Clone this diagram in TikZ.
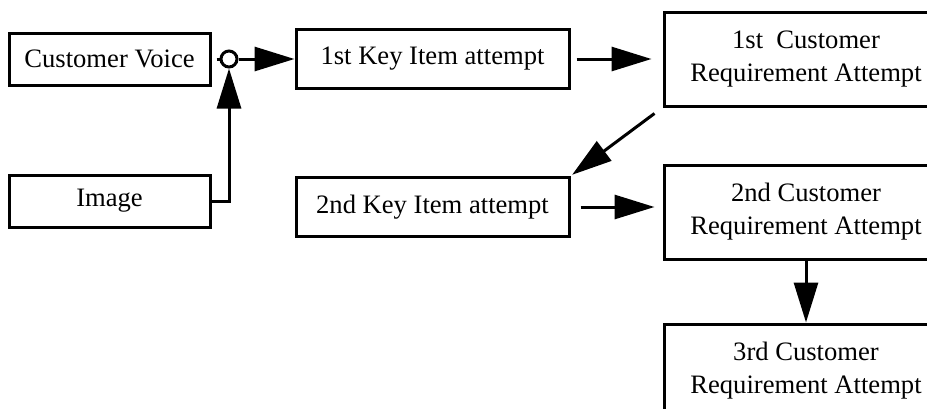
\documentclass[tikz,border=0pt]{standalone}
\usepackage{fontspec}
\setmainfont{Liberation Serif}
\usetikzlibrary{arrows.meta,positioning}

\begin{document}
\begin{tikzpicture}[
    block/.style={rectangle,draw,line width=1.5pt,minimum width=100.5pt,minimum height=26pt,align=center,inner sep=2pt,font=\fontsize{13.3}{16.5}\selectfont},
    keybox/.style={block,minimum width=136.5pt,minimum height=29.5pt},
    reqbox/.style={block,minimum width=142pt,minimum height=47pt},
    junction/.style={circle,draw,line width=1.5pt,minimum size=8pt,inner sep=0pt},
    arrow/.style={line width=1.5pt,-{Triangle[length=20pt,width=12pt]}}
]
    \useasboundingbox (0,0) rectangle (463.5pt,-204pt);

    \node[block] (voice) at (54.75pt,-29.5pt) {Customer Voice};
    \node[block,below=43.5pt of voice] (image) {Image};
    \node[junction,right=4pt of voice] (junc) {};

    \node[keybox,right=41.5pt of voice] (key1) {1st Key Item attempt};
    \node[keybox,below=43pt of key1] (key2) {2nd Key Item attempt};

    \node[reqbox,right=46pt of key1] (req1) {1st\ \ Customer\\Requirement Attempt};
    \node[reqbox,below=28pt of req1] (req2) {2nd Customer\\Requirement Attempt};
    \node[reqbox,below=31pt of req2] (req3) {3rd Customer\\Requirement Attempt};

    \draw[line width=1.5pt,shorten <=2.5pt] (voice) -- (junc);
    \draw[arrow] (image.east) -| (junc.south);
    \draw[arrow] (junc) -- (key1);
    \draw[arrow,shorten <=3pt,shorten >=5.5pt] (key1) -- (req1);
    \draw[arrow,shorten <=5pt,shorten >=1pt] (req1.south west) -- (key2.north east);
    \draw[arrow,shorten <=5pt,shorten >=4pt] (key2.east) -- (key2.east -| req2.west);
    \draw[arrow] (req2) -- (req3);
\end{tikzpicture}
\end{document}
